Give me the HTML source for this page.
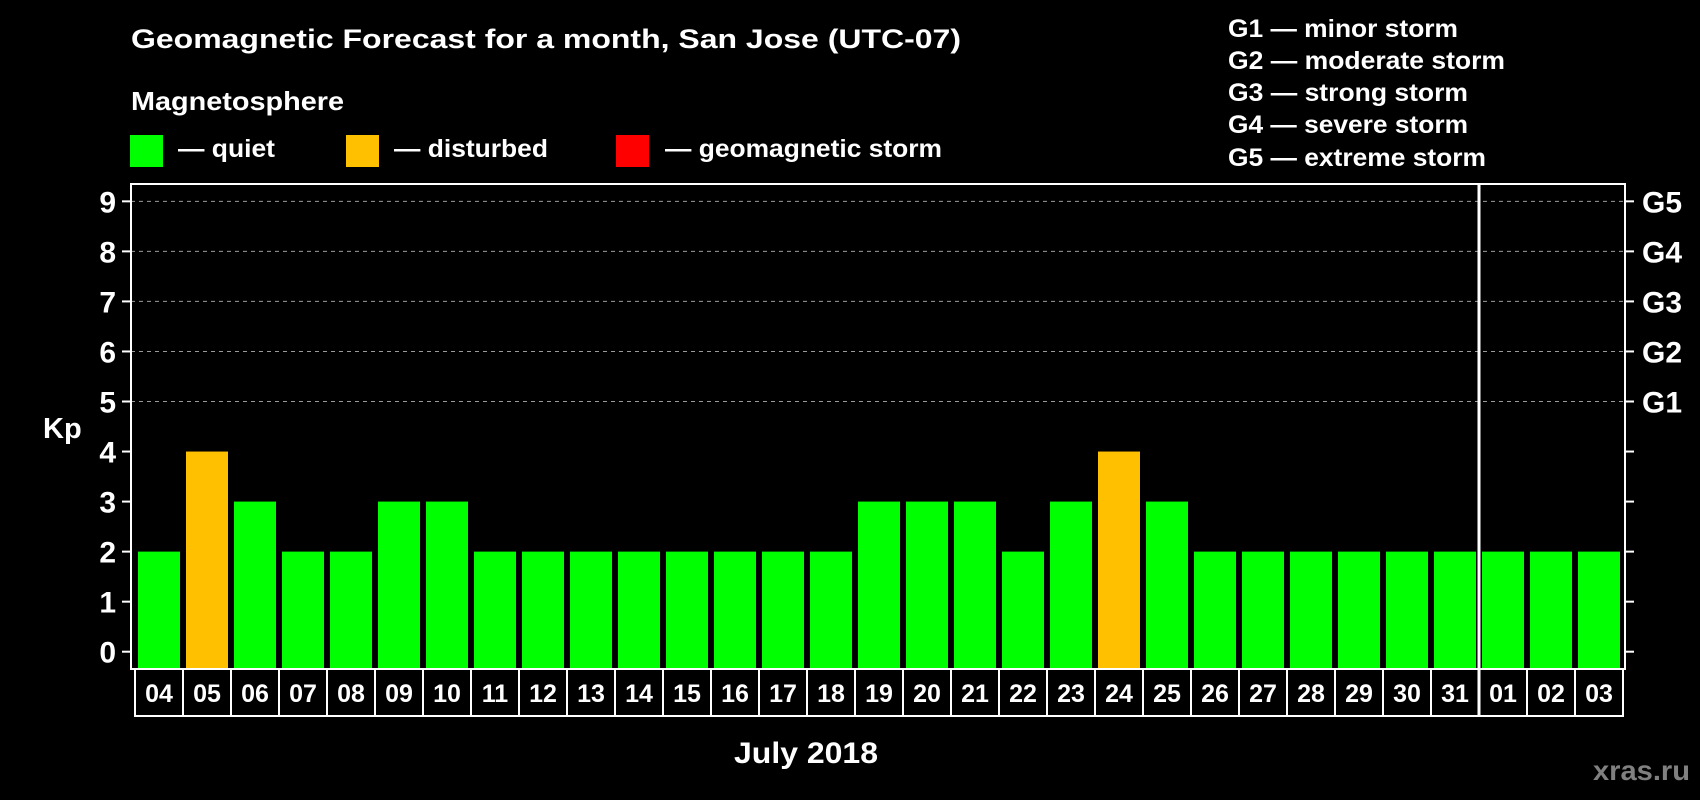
<!DOCTYPE html>
<html><head><meta charset="utf-8"><style>
html,body{margin:0;padding:0;background:#000;}
svg{display:block;font-family:"Liberation Sans",Arial,sans-serif;font-weight:bold;}
</style></head><body>
<svg id="chart" width="1700" height="800" viewBox="0 0 1700 800">
<rect x="0" y="0" width="1700" height="800" fill="#000"/>
<text x="131" y="48" font-size="27" fill="#fff" textLength="830" lengthAdjust="spacingAndGlyphs">Geomagnetic Forecast for a month, San Jose (UTC-07)</text>
<text x="131" y="110" font-size="26" fill="#fff" textLength="213" lengthAdjust="spacingAndGlyphs">Magnetosphere</text>
<g>
<rect x="130" y="135" width="33" height="32" fill="#00ff00"/>
<text x="178" y="157" font-size="25" fill="#fff" textLength="97" lengthAdjust="spacingAndGlyphs">— quiet</text></g>
<g>
<rect x="346" y="135" width="33" height="32" fill="#ffc000"/>
<text x="394" y="157" font-size="25" fill="#fff" textLength="154" lengthAdjust="spacingAndGlyphs">— disturbed</text></g>
<g>
<rect x="616" y="135" width="33" height="32" fill="#ff0000"/>
<text x="665" y="157" font-size="25" fill="#fff" textLength="277" lengthAdjust="spacingAndGlyphs">— geomagnetic storm</text></g>
<g font-size="25" fill="#fff">
<text x="1228" y="37" textLength="230" lengthAdjust="spacingAndGlyphs">G1 — minor storm</text>
<text x="1228" y="69" textLength="277" lengthAdjust="spacingAndGlyphs">G2 — moderate storm</text>
<text x="1228" y="101" textLength="240" lengthAdjust="spacingAndGlyphs">G3 — strong storm</text>
<text x="1228" y="133" textLength="240" lengthAdjust="spacingAndGlyphs">G4 — severe storm</text>
<text x="1228" y="166" textLength="258" lengthAdjust="spacingAndGlyphs">G5 — extreme storm</text>
</g>
<text x="43" y="438" font-size="29" fill="#fff">Kp</text>
<g id="grid"></g>
<g id="bars"></g>
<g id="axes"></g>
<text x="734" y="763" font-size="30" fill="#fff" textLength="144" lengthAdjust="spacingAndGlyphs">July 2018</text>
<text x="1593" y="780" font-size="28" fill="#808080" textLength="97" lengthAdjust="spacingAndGlyphs">xras.ru</text>
</svg>
<script>
const days = ["04","05","06","07","08","09","10","11","12","13","14","15","16","17","18","19","20","21","22","23","24","25","26","27","28","29","30","31","01","02","03"];
const kpValues = [2,4,3,2,2,3,3,2,2,2,2,2,2,2,2,3,3,3,2,3,4,3,2,2,2,2,2,2,2,2,2];
const yTicks = [0,1,2,3,4,5,6,7,8,9];
const gLabels = ["","","","","","G1","G2","G3","G4","G5"];
const monthBreakIndex = 28;

const NS = "http://www.w3.org/2000/svg";
const plotL = 131, plotR = 1625, plotT = 184, plotB = 669;
const y0 = 651.7, unit = 50.04;
const firstX = 135, step = 48, barW = 42;
function yScale(v){ return y0 - v*unit; }
function xScale(i){ return firstX + i*step; }
function mk(tag, attrs, parent){ const e=document.createElementNS(NS,tag); for(const k in attrs) e.setAttribute(k,attrs[k]); parent.appendChild(e); return e; }
function colorFor(v){ return v>=5 ? "#ff0000" : (v>=4 ? "#ffc000" : "#00ff00"); }

const grid = document.getElementById("grid");
const bars = document.getElementById("bars");
const axes = document.getElementById("axes");

yTicks.forEach((t,i)=>{
  const y = yScale(t);
  if (t>=5){
    const g = mk("line",{x1:plotL,x2:plotR,y1:y,y2:y,stroke:"#9a9a9a","stroke-width":1,"stroke-dasharray":"4,4"},grid);
    
    
  }
  const lt = mk("line",{x1:122,x2:plotL,y1:y,y2:y,stroke:"#fff","stroke-width":2},axes);
  
  
  const rt = mk("line",{x1:plotR,x2:1634,y1:y,y2:y,stroke:"#fff","stroke-width":2},axes);
  
  
  const lab = mk("text",{x:116,y:y+11,"font-size":30,fill:"#fff","text-anchor":"end"},axes);
  lab.textContent = t;
  
  
  if (gLabels[i]){
    const gl = mk("text",{x:1642,y:y+11,"font-size":30,fill:"#fff"},axes);
    gl.textContent = gLabels[i];
    
    
  }
});

kpValues.forEach((v,i)=>{
  const x = xScale(i);
  const r = mk("rect",{x:x+3,y:yScale(v),width:barW,height:plotB-yScale(v),fill:colorFor(v)},bars);
  
  
  const box = mk("rect",{x:x,y:plotB,width:step,height:716-plotB,fill:"none",stroke:"#fff","stroke-width":2},axes);
  
  
  const t = mk("text",{x:x+step/2,y:702,"font-size":25,fill:"#fff","text-anchor":"middle"},axes);
  t.textContent = days[i];
  
  
});

const frame = mk("rect",{x:plotL,y:plotT,width:plotR-plotL,height:plotB-plotT,fill:"none",stroke:"#fff","stroke-width":2},axes);


const dx = xScale(monthBreakIndex);
const div = mk("line",{x1:dx,x2:dx,y1:plotT,y2:716,stroke:"#fff","stroke-width":3},axes);


</script>
</body></html>
